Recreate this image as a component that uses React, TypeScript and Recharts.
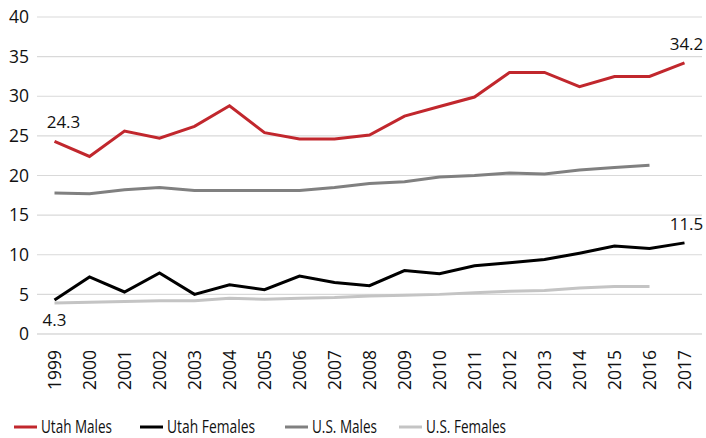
import { LineChart, Line, XAxis, YAxis, CartesianGrid, Legend, LabelList } from "recharts";

const years = ["1999", "2000", "2001", "2002", "2003", "2004", "2005", "2006", "2007", "2008", "2009", "2010", "2011", "2012", "2013", "2014", "2015", "2016", "2017"];
const utahMales = [24.3, 22.4, 25.6, 24.7, 26.2, 28.8, 25.4, 24.6, 24.6, 25.1, 27.5, 28.7, 29.9, 33.0, 33.0, 31.2, 32.5, 32.5, 34.2];
const utahFemales = [4.3, 7.2, 5.3, 7.7, 5.0, 6.2, 5.6, 7.3, 6.5, 6.1, 8.0, 7.6, 8.6, 9.0, 9.4, 10.2, 11.1, 10.8, 11.5];
const usMales = [17.8, 17.7, 18.2, 18.5, 18.1, 18.1, 18.1, 18.1, 18.5, 19.0, 19.2, 19.8, 20.0, 20.3, 20.2, 20.7, 21.0, 21.3, null];
const usFemales = [3.9, 4.0, 4.1, 4.2, 4.2, 4.5, 4.4, 4.5, 4.6, 4.8, 4.9, 5.0, 5.2, 5.4, 5.5, 5.8, 6.0, 6.0, null];
const yTicks = [0, 5, 10, 15, 20, 25, 30, 35, 40];

const data = years.map((y, i) => ({
  year: y,
  utahMales: utahMales[i],
  utahFemales: utahFemales[i],
  usMales: usMales[i],
  usFemales: usFemales[i],
}));

const series = [
  { key: "utahMales", name: "Utah Males", color: "#c1272d" },
  { key: "utahFemales", name: "Utah Females", color: "#000000" },
  { key: "usMales", name: "U.S. Males", color: "#808080" },
  { key: "usFemales", name: "U.S. Females", color: "#c4c4c4" },
];

const font = "'Open Sans', sans-serif";
const textColor = "#111111";

// only first and last points get a label
const makeLabel = (firstBelow: boolean, firstDx: number) => (props: any) => {
  const { x, y, index, value } = props;
  const last = index === years.length - 1;
  if (index !== 0 && !last) return null;
  const dx = last ? 2 : firstDx;
  const below = !last && firstBelow;
  return (
    <text x={x + dx} y={below ? y + 26 : y - 13} textAnchor="middle" fontSize={17} fontFamily={font} fill={textColor}>
      {value}
    </text>
  );
};

const YearTick = ({ x, y, payload }: any) => (
  <text x={x} y={y} transform={`rotate(-90 ${x} ${y})`} dx={-8} dy={6} textAnchor="end" fontSize={17.5} fontFamily={font} fill={textColor}>
    {payload.value}
  </text>
);

// legend drawn in svg so the narrow text widths of the original can be matched
const LegendBox = () => {
  const lineX = [14, 140, 285, 399];
  const textLen = [71, 88, 65, 80];
  return (
    <svg width={706} height={30} style={{ display: "block", overflow: "visible" }}>
      {series.map((s, i) => (
        <g key={s.key}>
          <line x1={lineX[i]} x2={lineX[i] + 23} y1={19} y2={19} stroke={s.color} strokeWidth={3} />
          <text x={lineX[i] + 27} y={25} fontSize={18.5} fontFamily={font} fill={textColor} textLength={textLen[i]} lengthAdjust="spacingAndGlyphs">
            {s.name}
          </text>
        </g>
      ))}
    </svg>
  );
};

export default function App() {
  return (
    <div style={{ position: "absolute", left: 0, top: 0 }}>
      <LineChart width={706} height={438} data={data} margin={{ top: 17, right: 4, left: 0, bottom: 0 }}>
        <CartesianGrid vertical={false} stroke="#d9d9d9" strokeWidth={1.2} />
        <XAxis dataKey="year" tick={<YearTick />} tickLine={false} axisLine={{ stroke: "#d9d9d9" }} height={74} interval={0} padding={{ left: 17.5, right: 17.5 }} />
        <YAxis domain={[0, 40]} ticks={yTicks} width={37} tickLine={false} axisLine={false} tick={{ fontSize: 17.5, fontFamily: font, fill: textColor }} />
        <Legend verticalAlign="bottom" align="left" content={<LegendBox />} wrapperStyle={{ left: 0, bottom: 0 }} />
        {series.map((s) => (
          <Line key={s.key} type="linear" dataKey={s.key} name={s.name} stroke={s.color} strokeWidth={3} dot={false} isAnimationActive={false}>
            {s.key === "utahMales" && <LabelList dataKey={s.key} content={makeLabel(false, 9)} />}
            {s.key === "utahFemales" && <LabelList dataKey={s.key} content={makeLabel(true, 0)} />}
          </Line>
        ))}
      </LineChart>
    </div>
  );
}
